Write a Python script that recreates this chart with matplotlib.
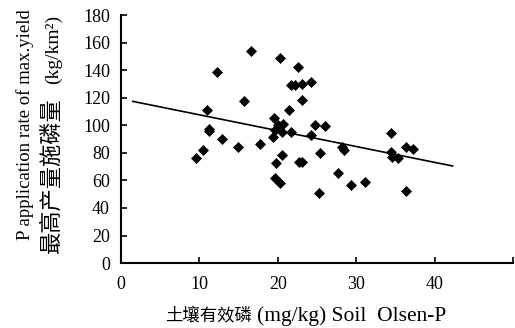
import matplotlib
matplotlib.use("Agg")
import matplotlib.pyplot as plt
import numpy as np

plt.rcParams['font.family'] = ['Liberation Serif', 'Noto Sans CJK SC']

# Soil Olsen-P (mg/kg)
olsen_p = [16.6, 20.3, 22.6, 12.3, 21.7, 22.2, 23.1, 24.2, 15.7, 23.1,
           21.4, 11.0, 19.5, 24.8, 26.0, 11.2, 11.2, 12.9, 14.9, 10.5,
           9.6, 17.7, 19.4, 20.0, 20.7, 19.6, 20.5, 21.7, 24.3, 20.6,
           19.8, 22.7, 23.1, 25.4, 19.6, 20.3, 25.3, 27.7, 28.2, 28.4,
           29.3, 31.1, 34.5, 34.5, 34.6, 35.3, 36.3, 37.2, 36.3]
# P application rate of max. yield (kg/km2)
p_rate = [153.6, 149.0, 142.0, 139.0, 129.5, 129.5, 130.0, 131.4, 117.4, 118.0,
          111.4, 110.9, 105.6, 100.5, 99.3, 97.6, 95.7, 90.3, 84.3, 81.9,
          76.3, 86.4, 91.5, 100.0, 101.2, 96.4, 95.1, 95.1, 92.8, 78.3,
          72.7, 73.4, 73.0, 80.2, 61.4, 58.2, 50.5, 65.4, 84.3, 82.4,
          56.5, 58.5, 94.4, 80.7, 77.0, 76.3, 84.3, 83.1, 52.4]

# Trend line
line_x = [1.5, 42.3]
slope = -1.15
intercept = 119.1

x_ticks = [0, 10, 20, 30, 40, 50]
x_tick_labels = ['0', '10', '20', '30', '40', '']
y_ticks = [0, 20, 40, 60, 80, 100, 120, 140, 160, 180]

W, H = 515, 328
fig = plt.figure(figsize=(W / 100, H / 100), dpi=100)
ax = fig.add_axes([0.235, 0.198, 0.761, 0.756])

ax.plot(olsen_p, p_rate, linestyle='none', marker='D', ms=5.2,
        color='black', mew=0.5)
lx = np.array(line_x)
ax.plot(lx, intercept + slope * lx, color='black', lw=1.2)

ax.set_xlim(0, 50)
ax.set_ylim(0, 180)
ax.set_xticks(x_ticks)
ax.set_xticklabels(x_tick_labels)
ax.set_yticks(y_ticks)

for s in ['top', 'right']:
    ax.spines[s].set_visible(False)
for s in ['left', 'bottom']:
    ax.spines[s].set_linewidth(1.5)
ax.tick_params(direction='in', length=4, width=1.2, labelsize=13)
ax.tick_params(axis='x', pad=9)
ax.tick_params(axis='y', pad=8)


def px(x, y):
    return x / W, 1 - y / H


# x-axis label (Chinese part + English part)
fig.text(*px(252, 321), '土壤有效磷', fontsize=12.5, fontweight='light',
         ha='right', va='baseline')
fig.text(*px(257, 321), '(mg/kg) Soil  Olsen-P', fontsize=15.5,
         ha='left', va='baseline')

# y-axis label, line 1
fig.text(*px(30, 240), 'P application rate of max.yield', fontsize=13.5,
         rotation=90, rotation_mode='anchor', ha='left', va='baseline')
# y-axis label, line 2
fig.text(*px(58, 253), '最高产量施磷量', fontsize=16, fontweight='light',
         rotation=90, rotation_mode='anchor', ha='left', va='baseline')
fig.text(*px(58, 84), '(kg/km²)', fontsize=14,
         rotation=90, rotation_mode='anchor', ha='left', va='baseline')

fig.savefig('out.png', dpi=100)
